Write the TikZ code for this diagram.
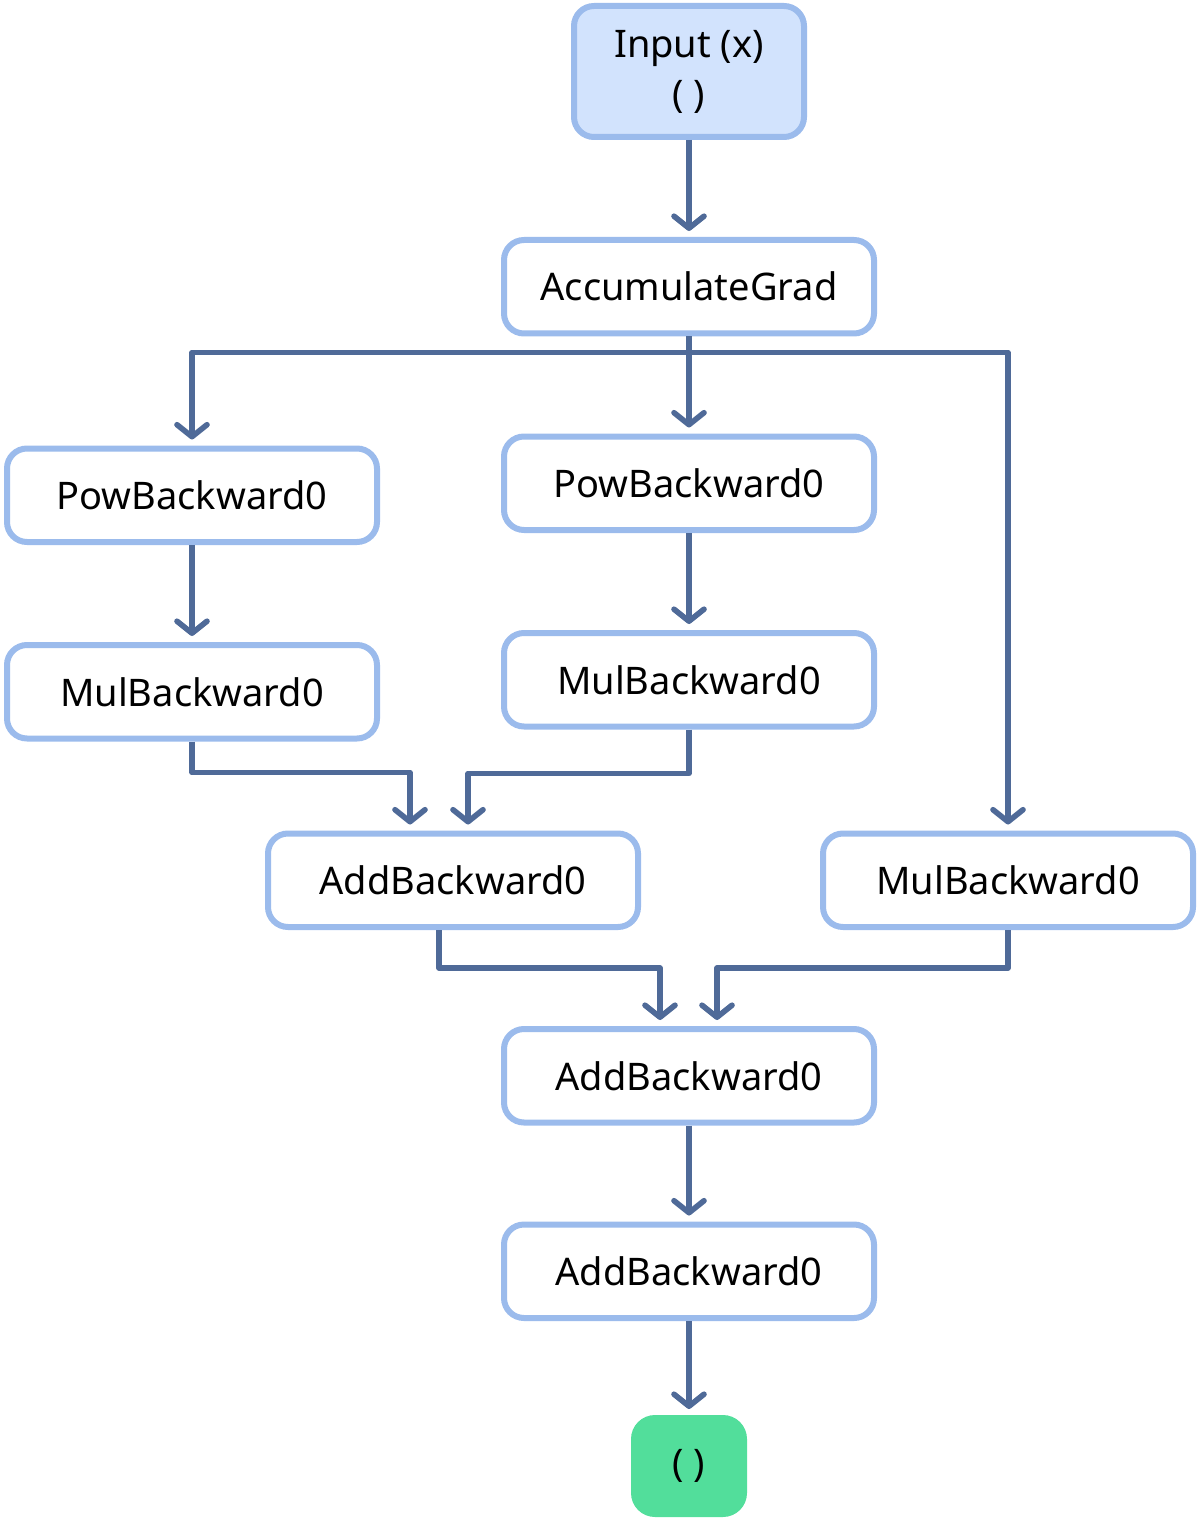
\documentclass[tikz,border=0pt]{standalone}
\usepackage{fontspec}
\setmainfont{Noto Sans}
\usepackage{tikz}
\usetikzlibrary{positioning,arrows.meta}
\definecolor{gedge}{HTML}{4F6A98}
\definecolor{gborder}{HTML}{9BBBEC}
\definecolor{ginput}{HTML}{D2E3FD}
\definecolor{gout}{HTML}{52DE9B}

\begin{document}
\begin{tikzpicture}[>={Straight Barb[length=6pt,width=15pt,line cap=round,line join=round]},
   node distance=48.5pt,
   fn/.style={draw=gborder, line width=3pt, rounded corners=10pt, fill=white, align=center,
              minimum width=185pt, minimum height=46.75pt, font=\fontsize{19}{25}\selectfont},
   flow/.style={->, gedge, line width=2.8pt, line join=round, shorten >=3pt}]
  \useasboundingbox (0,0) rectangle (599.5pt,-759pt);
  \node[fn, fill=ginput, minimum width=115pt, minimum height=65.5pt] (inp) at (344.5pt,-35.75pt) {Input (x)\\( )};
  \node[fn, below=of inp] (acc) {AccumulateGrad};
  \node[fn, below=of acc] (pow2) {PowBackward0};
  \node[fn, below=of pow2] (mul2) {MulBackward0};
  \node[fn, left=60.5pt of pow2, yshift=-6pt] (pow1) {PowBackward0};
  \node[fn, below=of pow1] (mul1) {MulBackward0};
  \node[fn, below=50.5pt of mul2, xshift=-118pt] (addl) {AddBackward0};
  \node[fn, right=89.5pt of addl] (mulr) {MulBackward0};
  \node[fn, below=48pt of addl, xshift=118pt] (add2) {AddBackward0};
  \node[fn, below=48pt of add2] (add3) {AddBackward0};
  \node[fill=gout, rounded corners=12pt, minimum width=58pt, minimum height=51pt, outer sep=0pt,
        font=\fontsize{19}{25}\selectfont, below=47pt of add3] (out) {( )};
  \draw[flow] (inp) -- (acc);
  \draw[flow] (acc.south) -- ++(0,-8pt) -| (pow1.north);
  \draw[flow] (acc) -- (pow2);
  \draw[flow] (acc.south) -- ++(0,-8pt) -| (mulr.north);
  \draw[flow] (pow1) -- (mul1);
  \draw[flow] (pow2) -- (mul2);
  \draw[flow] (mul1.south) -- ++(0,-15.5pt) -| ([xshift=-21.5pt]addl.north);
  \draw[flow] (mul2.south) -- ++(0,-22pt) -| ([xshift=7.5pt]addl.north);
  \draw[flow] ([xshift=-7pt]addl.south) -- ++(0,-19pt) -| ([xshift=-14.5pt]add2.north);
  \draw[flow] (mulr.south) -- ++(0,-19pt) -| ([xshift=14pt]add2.north);
  \draw[flow] (add2) -- (add3);
  \draw[flow] (add3) -- (out);
\end{tikzpicture}
\end{document}
